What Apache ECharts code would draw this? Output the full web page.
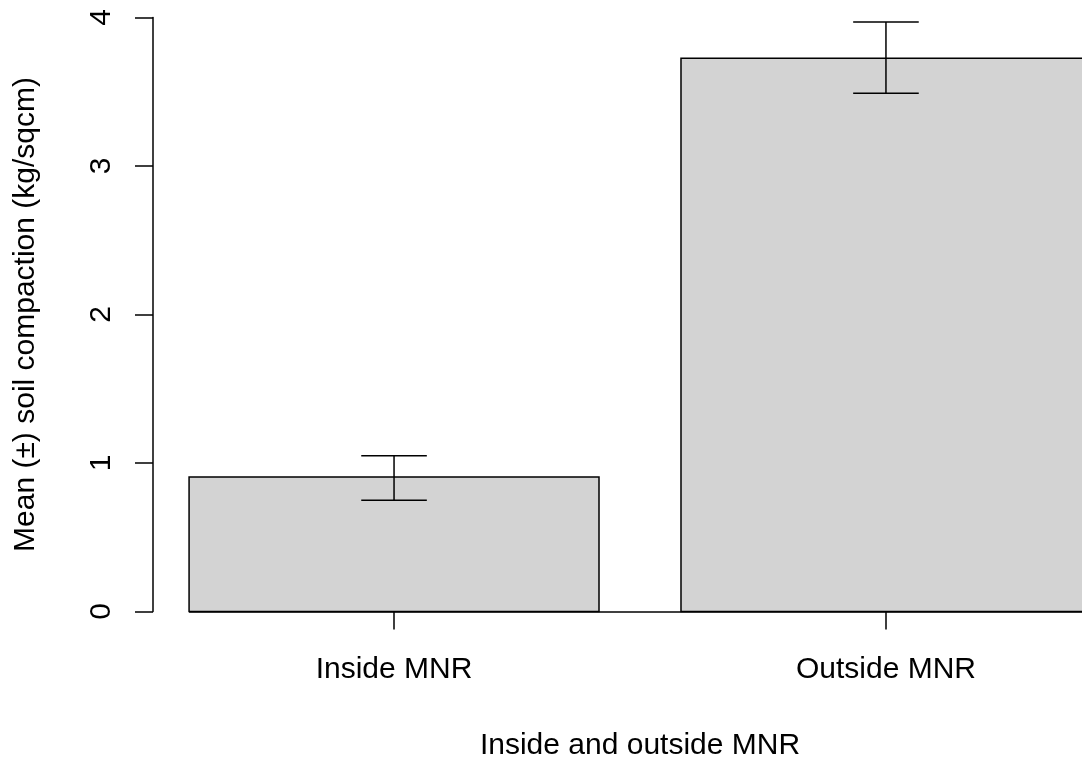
<!DOCTYPE html>
<html>
<head>
<meta charset="utf-8">
<script src="https://cdn.jsdelivr.net/npm/echarts@6/dist/echarts.min.js"></script>
<style>
  html, body { margin: 0; padding: 0; background: #fff; }
  #chart { width: 1082px; height: 760px; }
</style>
</head>
<body>
<div id="chart"></div>
<script>
// data
const categories = ['Inside MNR', 'Outside MNR'];
const means = [0.905, 3.725];
const lower = [0.75, 3.49];
const upper = [1.048, 3.97];
const yTicks = [0, 1, 2, 3, 4];

// barplot layout: bar width 1, space 0.2 (like R's barplot)
const barWidth = 1;
const space = 0.2;
const centers = categories.map((c, i) => space + i * (barWidth + space) + barWidth / 2);
const xMin = 0.112, xMax = 2.488;
const capHalf = 0.08;

const font = "'Liberation Sans', Arial, sans-serif";
const fontSize = 30;

const chart = echarts.init(document.getElementById('chart'));

function renderBar(params, api) {
  const i = params.dataIndex;
  const c = centers[i];
  const p0 = api.coord([c - barWidth / 2, 0]);
  const p1 = api.coord([c + barWidth / 2, means[i]]);
  const top = api.coord([c, upper[i]]);
  const bot = api.coord([c, lower[i]]);
  const capL = api.coord([c - capHalf, 0])[0];
  const capR = api.coord([c + capHalf, 0])[0];
  const line = { stroke: '#000', lineWidth: 1.5 };
  return {
    type: 'group',
    children: [
      {
        type: 'rect',
        shape: { x: p0[0], y: p1[1], width: p1[0] - p0[0], height: p0[1] - p1[1] },
        style: { fill: '#d3d3d3', stroke: '#000', lineWidth: 1.5 }
      },
      { type: 'line', shape: { x1: top[0], y1: top[1], x2: bot[0], y2: bot[1] }, style: line },
      { type: 'line', shape: { x1: capL, y1: top[1], x2: capR, y2: top[1] }, style: line },
      { type: 'line', shape: { x1: capL, y1: bot[1], x2: capR, y2: bot[1] }, style: line }
    ]
  };
}

const option = {
  backgroundColor: '#fff',
  animation: false,
  textStyle: { fontFamily: font, color: '#000' },
  grid: { left: 153, top: 17.5, width: 974, height: 594, outerBoundsMode: 'none', containLabel: false },
  xAxis: {
    type: 'value',
    min: xMin,
    max: xMax,
    axisLine: { show: false },
    splitLine: { show: false },
    axisTick: {
      customValues: centers,
      length: 18,
      lineStyle: { color: '#000', width: 1.5 }
    },
    axisLabel: {
      customValues: centers,
      formatter: v => categories[centers.findIndex(c => Math.abs(c - v) < 1e-6)],
      fontSize: fontSize,
      fontFamily: font,
      color: '#000',
      margin: 43
    },
    name: 'Inside and outside MNR',
    nameLocation: 'middle',
    nameGap: 119,
    nameTextStyle: { fontSize: fontSize, fontFamily: font, color: '#000' }
  },
  yAxis: {
    type: 'value',
    min: 0,
    max: 4,
    interval: 1,
    axisLine: { show: true, lineStyle: { color: '#000', width: 1.5 } },
    splitLine: { show: false },
    axisTick: { length: 18, lineStyle: { color: '#000', width: 1.5 } },
    axisLabel: {
      formatter: v => (yTicks.indexOf(v) >= 0 ? String(v) : ''),
      rotate: 90,
      fontSize: fontSize,
      fontFamily: font,
      color: '#000',
      margin: 36
    },
    name: 'Mean (±) soil compaction (kg/sqcm)',
    nameLocation: 'middle',
    nameRotate: 90,
    nameGap: 112,
    nameTextStyle: { fontSize: fontSize, fontFamily: font, color: '#000' }
  },
  series: [
    {
      type: 'custom',
      renderItem: renderBar,
      data: means.map((m, i) => [centers[i], m]),
      clip: false,
      z: 2,
      markLine: {
        silent: true,
        symbol: 'none',
        label: { show: false },
        lineStyle: { color: '#000', width: 1.5, type: 'solid' },
        data: [[{ coord: [centers[0] - barWidth / 2, 0] }, { coord: [xMax, 0] }]]
      }
    }
  ]
};

chart.setOption(option);
</script>
</body>
</html>
